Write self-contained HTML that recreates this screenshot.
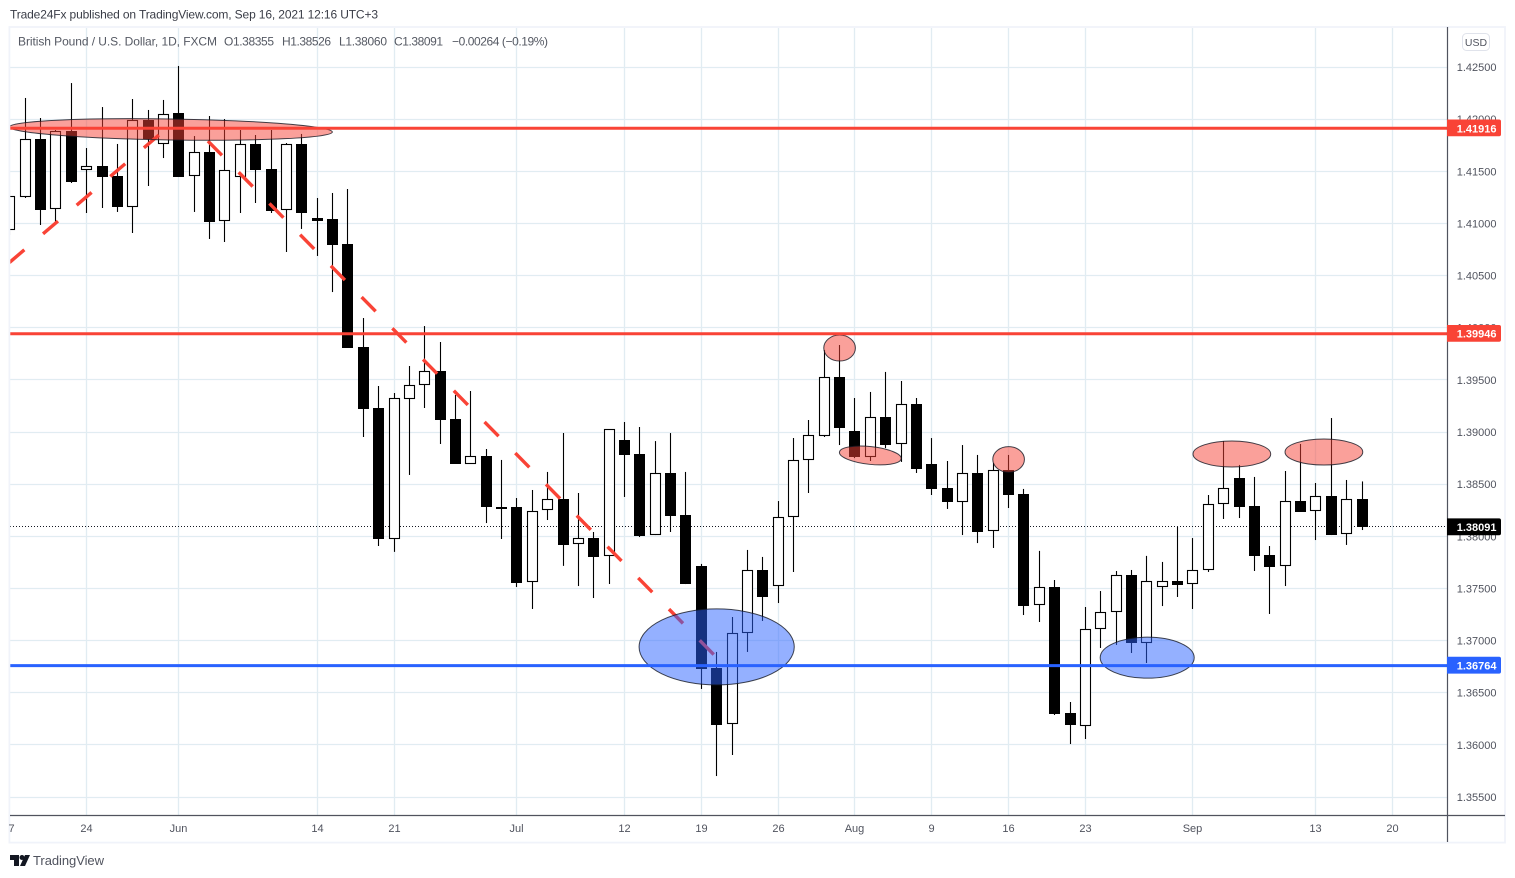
<!DOCTYPE html>
<html lang="en">
<head>
<meta charset="utf-8">
<title>GBP/USD daily chart</title>
<style>
html,body{margin:0;padding:0;background:#fff;width:1515px;height:878px;overflow:hidden}
svg{display:block;font-family:"Liberation Sans",sans-serif}
</style>
</head>
<body>
<svg id="chart" xmlns="http://www.w3.org/2000/svg" width="1515" height="878" viewBox="0 0 1515 878">
  <defs><clipPath id="pane-clip"><rect x="10" y="28" width="1437" height="787"/></clipPath></defs>
  <rect x="0" y="0" width="1515" height="878" fill="#ffffff"/>
  <text x="10" y="18.3" font-size="12" fill="#3a3d47" textLength="368" lengthAdjust="spacing">Trade24Fx published on TradingView.com, Sep 16, 2021 12:16 UTC+3</text>
  <g id="grid" clip-path="url(#pane-clip)"></g>
  <line id="last-price-line" x1="10" x2="1447" stroke="#131722" stroke-width="1" stroke-dasharray="1 2"/>
  <g id="candles" clip-path="url(#pane-clip)"></g>
  <g id="trend" clip-path="url(#pane-clip)"></g>
  <g id="ellipses" clip-path="url(#pane-clip)"></g>
  <g id="levels"></g>
  <g font-size="12" fill="#555963">
    <text x="18" y="45.5" textLength="199" lengthAdjust="spacing">British Pound / U.S. Dollar, 1D, FXCM</text>
    <text x="224" y="45.5" textLength="50" lengthAdjust="spacing">O1.38355</text>
    <text x="282" y="45.5" textLength="49" lengthAdjust="spacing">H1.38526</text>
    <text x="339" y="45.5" textLength="48" lengthAdjust="spacing">L1.38060</text>
    <text x="394" y="45.5" textLength="49" lengthAdjust="spacing">C1.38091</text>
    <text x="452" y="45.5" textLength="96" lengthAdjust="spacing">−0.00264 (−0.19%)</text>
  </g>
  <g fill="none">
    <rect x="9.4" y="27" width="1495.6" height="815.6" stroke="#f0f3fa" stroke-width="1.8"/>
    <line x1="10" x2="1505" y1="815.5" y2="815.5" stroke="#50535e" stroke-width="1.2"/>
    <line x1="1447.5" x2="1447.5" y1="27" y2="842" stroke="#50535e" stroke-width="1.2"/>
  </g>
  <g id="price-axis" font-size="11" fill="#50535e"></g>
  <g id="time-axis" font-size="11" fill="#50535e"></g>
  <g id="tags" font-size="11" font-weight="bold" fill="#ffffff"></g>
  <g>
    <rect x="1462.5" y="33.5" width="27" height="17" rx="4" fill="#ffffff" stroke="#e0e3eb"/>
    <text x="1476" y="46" font-size="10.5" fill="#50535e" text-anchor="middle">USD</text>
  </g>
  <g>
    <path d="M10 855H19V866H14V860H10ZM25 855H30L25 866H20Z" fill="#131722"/>
    <circle cx="22" cy="857.5" r="2.5" fill="#131722"/>
    <text x="33" y="865" font-size="13" fill="#50535e" textLength="71" lengthAdjust="spacing">TradingView</text>
  </g>
</svg>
<script>
// ---- chart data ----
const opens = [1.40937,1.41254,1.41810,1.41139,1.41886,1.41512,1.41550,1.41455,1.41158,1.41992,1.41762,1.42059,1.41455,1.41685,1.41023,1.41445,1.41762,1.41522,1.41129,1.41762,1.41052,1.41042,1.40803,1.39815,1.39230,1.37974,1.39316,1.39451,1.39585,1.39125,1.38694,1.38770,1.38281,1.38281,1.37562,1.38252,1.38358,1.37926,1.37983,1.37812,1.38923,1.38789,1.38012,1.38607,1.38204,1.37716,1.36737,1.36200,1.37073,1.37677,1.37523,1.38185,1.38732,1.38961,1.39527,1.39009,1.38760,1.39144,1.38885,1.39269,1.38694,1.38463,1.38329,1.38607,1.38050,1.38636,1.38406,1.37341,1.37514,1.36306,1.36181,1.37111,1.37274,1.37629,1.36977,1.37514,1.37571,1.37542,1.37677,1.38310,1.38559,1.38291,1.37821,1.37716,1.38338,1.38243,1.38387,1.38022,1.38355];
const highs = [1.41321,1.42203,1.42011,1.41896,1.42346,1.41723,1.42116,1.41762,1.42193,1.42088,1.42184,1.42510,1.41838,1.42030,1.42001,1.41896,1.41848,1.41896,1.41771,1.41858,1.41244,1.41292,1.41330,1.40093,1.39441,1.39374,1.39633,1.40016,1.39863,1.39355,1.39393,1.38837,1.38732,1.38367,1.38444,1.38617,1.38990,1.38415,1.38041,1.39028,1.39096,1.39048,1.38913,1.38990,1.38617,1.37735,1.36891,1.37226,1.37869,1.37802,1.38338,1.38942,1.39115,1.39786,1.39834,1.39326,1.39384,1.39576,1.39489,1.39326,1.38942,1.38722,1.38875,1.38780,1.38703,1.38780,1.38454,1.37860,1.37581,1.36411,1.37322,1.37475,1.37667,1.37677,1.37812,1.37754,1.38089,1.37983,1.38396,1.38913,1.38684,1.38569,1.37907,1.38626,1.38885,1.38511,1.39134,1.38540,1.38526];
const lows = [1.40889,1.41244,1.40985,1.41014,1.41388,1.41100,1.41148,1.41110,1.40908,1.41359,1.41627,1.41445,1.41110,1.40851,1.40822,1.41100,1.41196,1.41100,1.40726,1.40947,1.40688,1.40342,1.39805,1.38952,1.37907,1.37850,1.38588,1.39230,1.38885,1.38694,1.38694,1.38127,1.37974,1.37514,1.37303,1.38156,1.37716,1.37523,1.37408,1.37542,1.38377,1.37993,1.38012,1.38041,1.37542,1.36536,1.35701,1.35903,1.36891,1.37188,1.37360,1.37658,1.38415,1.38952,1.38875,1.38750,1.38722,1.38846,1.38713,1.38607,1.38396,1.38262,1.38012,1.37935,1.37888,1.38271,1.37245,1.37178,1.36286,1.36008,1.36056,1.36929,1.36958,1.36881,1.36785,1.37331,1.37418,1.37303,1.37658,1.38166,1.38175,1.37667,1.37255,1.37523,1.38233,1.37964,1.38012,1.37917,1.38060];
const closes = [1.41263,1.41810,1.41129,1.41886,1.41397,1.41550,1.41445,1.41158,1.41992,1.41810,1.42050,1.41445,1.41685,1.41014,1.41512,1.41762,1.41512,1.41119,1.41762,1.41100,1.41028,1.40793,1.39805,1.39221,1.37974,1.39326,1.39451,1.39585,1.39115,1.38694,1.38770,1.38281,1.38262,1.37552,1.38243,1.38358,1.37917,1.37983,1.37802,1.39028,1.38780,1.38003,1.38607,1.38195,1.37542,1.36728,1.36190,1.37073,1.37677,1.37418,1.38185,1.38732,1.38971,1.39527,1.39038,1.38760,1.39144,1.38875,1.39269,1.38646,1.38454,1.38329,1.38607,1.38041,1.38636,1.38396,1.37331,1.37514,1.36296,1.36190,1.37111,1.37274,1.37629,1.36977,1.37571,1.37571,1.37533,1.37677,1.38310,1.38463,1.38281,1.37812,1.37706,1.38338,1.38233,1.38387,1.38012,1.38358,1.38091];
const priceTicks = [1.425,1.42,1.415,1.41,1.405,1.40,1.395,1.39,1.385,1.38,1.375,1.37,1.365,1.36,1.355];
const timeTickBars = [0,5,11,20,25,33,40,45,50,55,60,65,70,77,85,90];
const timeTickLabels = ['7','24','Jun','14','21','Jul','12','19','26','Aug','9','16','23','Sep','13','20'];
const levelPrices = [1.41916,1.39946,1.36764];
const levelKinds = ['resistance','resistance','support'];
const lastPrice = 1.38091;
const trendUpBars = [-0.03,9.70];
const trendUpPrices = [1.40625,1.41848];
const trendDownBars = [12.89,45.96];
const trendDownPrices = [1.41790,1.36843];
const ellipseBars = [10.48,46.0,74.02,54.0,56.0,65.0,79.53,85.52];
const ellipsePrices = [1.41901,1.36939,1.36836,1.39805,1.38775,1.38737,1.38789,1.38808];
const ellipseBarRadii = [10.51,5.05,3.06,1.03,2.02,1.03,2.53,2.53];
const ellipsePriceRadii = [0.001007,0.003644,0.001966,0.001247,0.000853,0.001227,0.001247,0.001247];
const ellipseTilts = [0.9,0,0,0,6,0,0,0];
const ellipseKinds = ['resistance','support','support','resistance','resistance','resistance','resistance','resistance'];

// ---- axis functions ----
const xScale = i => 9.88 + 15.365 * i;
const yScale = p => 67 + (1.425 - p) * 10428.6;
const barsToPx = b => b * 15.365;
const priceToPx = d => d * 10428.6;

const NS = 'http://www.w3.org/2000/svg';
function make(tag, attrs, parent) {
  const node = document.createElementNS(NS, tag);
  for (const k in attrs) node.setAttribute(k, attrs[k]);
  parent.appendChild(node);
  return node;
}
const gridG = document.getElementById('grid');
const candlesG = document.getElementById('candles');
const trendG = document.getElementById('trend');
const ellipsesG = document.getElementById('ellipses');
const levelsG = document.getElementById('levels');
const priceAxisG = document.getElementById('price-axis');
const timeAxisG = document.getElementById('time-axis');
const tagsG = document.getElementById('tags');
const RED = '#f94336';
const BLUE = '#2962ff';

// grid and price labels
priceTicks.forEach(p => {
  const y = Math.floor(yScale(p)) + 0.5;
  const gl = make('line', {x1: 10, x2: 1447, y1: y, y2: y, stroke: '#e1ecf2', 'stroke-width': 1.3}, gridG);
  
  
  const t = make('text', {x: 1496.5, y: yScale(p) + 4, 'text-anchor': 'end'}, priceAxisG);
  
  
  t.textContent = p.toFixed(5);
});

// time grid and labels
timeTickBars.forEach((b, k) => {
  const x = Math.floor(xScale(b)) + 0.5;
  if (k > 0) {
    const gl = make('line', {x1: x, x2: x, y1: 28, y2: 815, stroke: '#e1ecf2', 'stroke-width': 1.3}, gridG);
    
    
  }
  const t = make('text', {x: Math.max(x, 11.5), y: 832, 'text-anchor': 'middle'}, timeAxisG);
  
  
  t.textContent = timeTickLabels[k];
});

// last price line
const lastLine = document.getElementById('last-price-line');
lastLine.setAttribute('y1', Math.floor(yScale(lastPrice)) + 0.5);
lastLine.setAttribute('y2', Math.floor(yScale(lastPrice)) + 0.5);

// candles
opens.forEach((o, i) => {
  const c = closes[i];
  const up = c > o;
  const cx = Math.floor(xScale(i));
  const wick = make('line', {x1: cx + 0.5, x2: cx + 0.5, y1: yScale(highs[i]), y2: yScale(lows[i]), stroke: '#000000', 'stroke-width': 1.1}, candlesG);
  
  
  const top = Math.round(yScale(Math.max(o, c)));
  const bot = Math.round(yScale(Math.min(o, c)));
  const h = Math.max(bot - top, 2);
  const attrs = up
    ? {x: cx - 4.5, y: top + 0.5, width: 10, height: Math.max(h - 1, 1), fill: '#ffffff', stroke: '#000000', 'stroke-width': 1.1}
    : {x: cx - 5, y: top, width: 11, height: h, fill: '#000000'};
  const body = make('rect', attrs, candlesG);
  
  
});

// dashed trend lines
const up = make('line', {x1: xScale(trendUpBars[0]), y1: yScale(trendUpPrices[0]), x2: xScale(trendUpBars[1]), y2: yScale(trendUpPrices[1]), stroke: RED, 'stroke-width': 3.4, 'stroke-dasharray': '19.6 24.6'}, trendG);


const down = make('line', {x1: xScale(trendDownBars[0]), y1: yScale(trendDownPrices[0]), x2: xScale(trendDownBars[1]), y2: yScale(trendDownPrices[1]), stroke: RED, 'stroke-width': 3.4, 'stroke-dasharray': '20 23.8'}, trendG);



// ellipses
ellipseBars.forEach((b, i) => {
  const cx = xScale(b), cy = yScale(ellipsePrices[i]);
  const fill = ellipseKinds[i] === 'support' ? 'rgba(41,98,255,0.5)' : 'rgba(245,66,54,0.5)';
  const e = make('ellipse', {cx: cx, cy: cy, rx: barsToPx(ellipseBarRadii[i]), ry: priceToPx(ellipsePriceRadii[i]), fill: fill, stroke: 'rgba(19,23,34,0.8)', 'stroke-width': 1, transform: 'rotate(' + ellipseTilts[i] + ' ' + cx + ' ' + cy + ')'}, ellipsesG);
  
  
});

// horizontal levels and tags
function addTag(price, color) {
  const y = yScale(price);
  const r = make('path', {d: 'M1447 ' + (y - 8.4) + 'H1499a2 2 0 0 1 2 2V' + (y + 6.4) + 'a2 2 0 0 1 -2 2H1447Z', fill: color}, tagsG);
  
  
  const t = make('text', {x: 1496.5, y: y + 4.4, 'text-anchor': 'end'}, tagsG);
  
  
  t.textContent = price.toFixed(5);
}
levelPrices.forEach((p, i) => {
  const color = levelKinds[i] === 'support' ? BLUE : RED;
  const y = yScale(p) + 0.4;
  const l = make('line', {x1: 10, x2: 1447, y1: y, y2: y, stroke: color, 'stroke-width': 3}, levelsG);
  
  
  addTag(p, color);
});
addTag(lastPrice, '#000000');
</script>
</body>
</html>
